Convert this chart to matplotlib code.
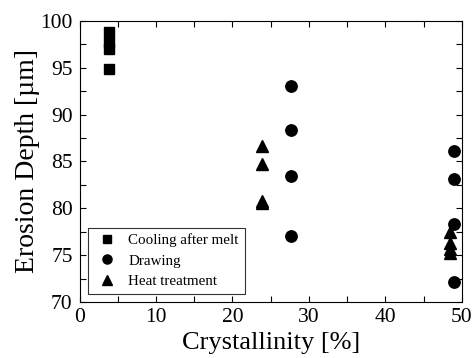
import matplotlib
matplotlib.use("Agg")
import matplotlib.pyplot as plt
from matplotlib.ticker import MultipleLocator

plt.rcParams['font.family'] = ['Liberation Serif', 'DejaVu Serif']

# crystallinity [%] and erosion depth [um] for each processing route
melt_x = [3.8, 3.8, 3.8, 3.8]
melt_y = [98.8, 97.7, 97.0, 94.9]

draw_x = [27.7, 27.7, 27.7, 27.7, 49.0, 49.0, 49.0, 49.0]
draw_y = [93.0, 88.4, 83.4, 77.1, 86.1, 83.1, 78.3, 72.1]

heat_x = [23.9, 23.9, 23.9, 23.9, 48.4, 48.4, 48.4, 48.4]
heat_y = [86.6, 84.7, 80.8, 80.6, 77.5, 76.3, 75.7, 75.2]

fig = plt.figure(figsize=(4.77, 3.58), dpi=100)
ax = fig.add_axes([0.167, 0.156, 0.801, 0.786])

ax.plot(melt_x, melt_y, 's', color='black', markersize=7.5, label='Cooling after melt')
ax.plot(draw_x, draw_y, 'o', color='black', markersize=8.2, label='Drawing')
ax.plot(heat_x, heat_y, '^', color='black', markersize=9.3, label='Heat treatment')

ax.set_xlim(0, 50)
ax.set_ylim(70, 100)
ax.xaxis.set_major_locator(MultipleLocator(10))
ax.xaxis.set_minor_locator(MultipleLocator(5))
ax.yaxis.set_major_locator(MultipleLocator(5))
ax.yaxis.set_minor_locator(MultipleLocator(2.5))
ax.tick_params(which='both', direction='in', top=True, right=True,
               length=4, width=0.8, labelsize=15.5)
ax.tick_params(axis='y', pad=5)
ax.tick_params(axis='x', pad=4)

ax.set_xlabel('Crystallinity [%]', fontsize=19, labelpad=4)
ax.set_ylabel('Erosion Depth [\u00b5m]', fontsize=20, labelpad=0)

leg = ax.legend(loc='lower left', fontsize=10.8, frameon=True, fancybox=False,
                edgecolor='black', handlelength=1.7, handletextpad=0.6,
                borderpad=0.4, labelspacing=0.45, borderaxespad=0.55,
                markerscale=0.8)
leg.get_frame().set_linewidth(0.8)

fig.savefig('out.png', dpi=100)
